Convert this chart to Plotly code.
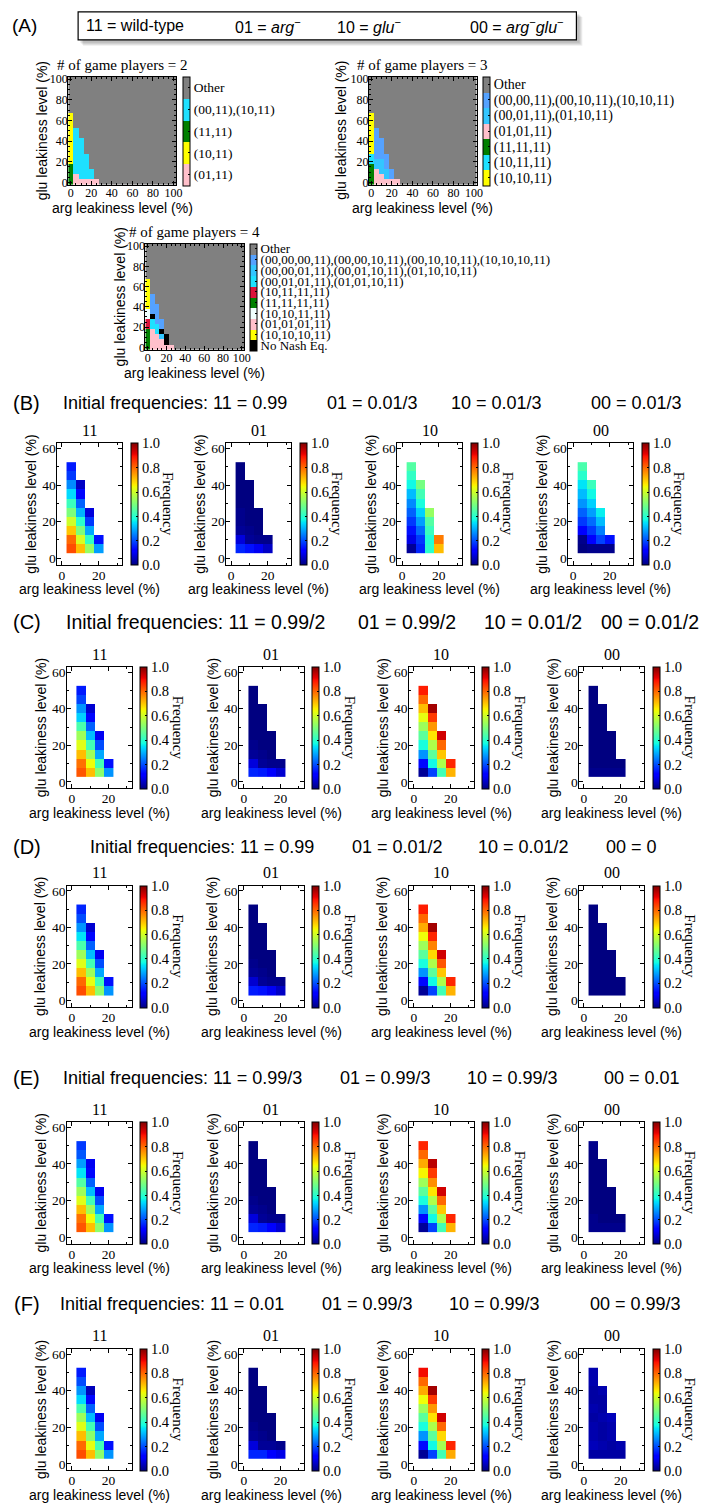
import numpy as np
import plotly.graph_objects as go

W, H = 706, 1505
SERIF = "Liberation Serif"
SANS = "Liberation Sans"

# ---------------- Panel (A): Nash equilibria maps ----------------
A_X = list(range(0, 101, 5))          # arg leakiness (%)
A_Y = list(range(0, 101, 5))          # glu leakiness (%)
A_TICKS = [0, 20, 40, 60, 80, 100]

P2_LABELS = ["(01,11)", "(10,11)", "(11,11)", "(00,11),(10,11)", "Other"]
P2_COLORS = ["#FFC0CB", "#FFFF00", "#007F00", "#1EE0FF", "#808080"]
# runs per arg column, from glu=0 upward: (category, number of 5% cells); remainder = Other
P2_RUNS = {0: [(2, 4), (1, 10)], 5: [(0, 2), (3, 9)], 10: [(0, 1), (3, 8)],
           15: [(0, 1), (3, 5)], 20: [(0, 1), (3, 2)], 25: [(0, 1)]}

P3_LABELS = ["(10,10,11)", "(10,11,11)", "(11,11,11)", "(01,01,11)",
             "(00,01,11),(01,10,11)", "(00,00,11),(00,10,11),(10,10,11)", "Other"]
P3_COLORS = ["#FFFF00", "#1EE0FF", "#007F00", "#FFC0CB", "#33C6FF", "#55A2FF", "#808080"]
P3_RUNS = {0: [(2, 4), (1, 2), (0, 8)], 5: [(3, 3), (4, 2), (5, 6)], 10: [(3, 2), (4, 3), (5, 4)],
           15: [(3, 1), (4, 2), (5, 3)], 20: [(3, 1), (5, 2)], 25: [(3, 1)]}

P4_LABELS = ["No Nash Eq.", "(10,10,10,11)", "(01,01,01,11)", "(10,10,11,11)", "(11,11,11,11)",
             "(10,11,11,11)", "(00,01,01,11),(01,01,10,11)",
             "(00,00,01,11),(00,01,10,11),(01,10,10,11)",
             "(00,00,00,11),(00,00,10,11),(00,10,10,11),(10,10,10,11)", "Other"]
P4_COLORS = ["#000000", "#FFFF00", "#FFC0CB", "#F0FFFF", "#007F00", "#DC143C",
             "#1EE0FF", "#33C6FF", "#55A2FF", "#808080"]
P4_RUNS = {0: [(4, 4), (5, 2), (3, 2), (1, 6)], 5: [(2, 4), (6, 2), (0, 1), (8, 4)],
           10: [(2, 3), (6, 2), (8, 4)], 15: [(2, 2), (7, 1), (0, 1), (8, 2)],
           20: [(2, 1), (0, 2)], 25: [(2, 1)]}

# ---------------- Panels (B)-(F): frequency heatmaps ----------------
HM_X = [5, 10, 15, 20]                              # arg leakiness (%)
HM_Y = [5, 10, 15, 20, 25, 30, 35, 40, 45, 50]      # glu leakiness (%)
GENOTYPES = ["11", "01", "10", "00"]
# each panel: one list per arg column, values from glu=5 upward

B_11 = [[0.83, 0.80, 0.70, 0.60, 0.50, 0.42, 0.34, 0.26, 0.18, 0.15],
        [0.71, 0.61, 0.50, 0.40, 0.30, 0.22, 0.13, 0.06],
        [0.53, 0.41, 0.29, 0.18, 0.08],
        [0.28, 0.14]]
B_01 = [[0.16, 0.08, 0.02, 0.01, 0.01, 0.00, 0.00, 0.00, 0.00, 0.00],
        [0.14, 0.02, 0.01, 0.00, 0.00, 0.00, 0.00, 0.00],
        [0.10, 0.01, 0.00, 0.00, 0.00],
        [0.06, 0.01]]
B_10 = [[0.02, 0.09, 0.14, 0.18, 0.22, 0.26, 0.31, 0.37, 0.41, 0.45],
        [0.16, 0.18, 0.23, 0.28, 0.33, 0.38, 0.43, 0.49],
        [0.40, 0.39, 0.42, 0.45, 0.53],
        [0.71, 0.78]]
B_00 = [[0.00, 0.01, 0.12, 0.18, 0.22, 0.27, 0.31, 0.35, 0.40, 0.44],
        [0.01, 0.12, 0.18, 0.23, 0.28, 0.33, 0.37, 0.42],
        [0.01, 0.19, 0.25, 0.31, 0.36],
        [0.01, 0.14]]

C_11 = [[0.82, 0.79, 0.71, 0.62, 0.54, 0.44, 0.33, 0.27, 0.19, 0.15],
        [0.71, 0.64, 0.54, 0.43, 0.31, 0.22, 0.13, 0.07],
        [0.52, 0.43, 0.29, 0.20, 0.10],
        [0.27, 0.14]]
C_01 = [[0.16, 0.08, 0.02, 0.01, 0.00, 0.00, 0.00, 0.00, 0.00, 0.00],
        [0.15, 0.02, 0.01, 0.00, 0.00, 0.00, 0.00, 0.00],
        [0.11, 0.01, 0.00, 0.00, 0.00],
        [0.07, 0.01]]
C_10 = [[0.02, 0.13, 0.27, 0.38, 0.46, 0.54, 0.63, 0.71, 0.80, 0.88],
        [0.19, 0.37, 0.46, 0.56, 0.67, 0.75, 0.85, 0.97],
        [0.43, 0.56, 0.70, 0.80, 0.93],
        [0.72, 0.87]]
C_00 = [[0.01, 0.00, 0.00, 0.00, 0.00, 0.00, 0.00, 0.00, 0.00, 0.00],
        [0.01, 0.00, 0.00, 0.00, 0.00, 0.00, 0.00, 0.00],
        [0.01, 0.00, 0.00, 0.00, 0.00],
        [0.01, 0.00]]

D_11 = [[0.83, 0.80, 0.71, 0.62, 0.54, 0.44, 0.35, 0.27, 0.20, 0.16],
        [0.71, 0.63, 0.54, 0.43, 0.31, 0.22, 0.13, 0.07],
        [0.52, 0.43, 0.29, 0.20, 0.10],
        [0.27, 0.14]]
D_01 = [[0.15, 0.07, 0.02, 0.01, 0.00, 0.00, 0.00, 0.00, 0.00, 0.00],
        [0.14, 0.02, 0.01, 0.00, 0.00, 0.00, 0.00, 0.00],
        [0.10, 0.01, 0.00, 0.00, 0.00],
        [0.06, 0.01]]
D_10 = [[0.02, 0.13, 0.27, 0.38, 0.46, 0.54, 0.64, 0.73, 0.80, 0.88],
        [0.19, 0.37, 0.46, 0.56, 0.68, 0.77, 0.87, 0.97],
        [0.43, 0.56, 0.70, 0.82, 0.93],
        [0.72, 0.87]]
D_00 = [[0.00, 0.00, 0.00, 0.00, 0.00, 0.00, 0.00, 0.00, 0.00, 0.00],
        [0.00, 0.00, 0.00, 0.00, 0.00, 0.00, 0.00, 0.00],
        [0.00, 0.00, 0.00, 0.00, 0.00],
        [0.00, 0.00]]

E_11 = [[0.82, 0.79, 0.71, 0.62, 0.54, 0.45, 0.35, 0.28, 0.21, 0.18],
        [0.71, 0.64, 0.54, 0.43, 0.31, 0.22, 0.13, 0.10],
        [0.52, 0.43, 0.29, 0.20, 0.10],
        [0.27, 0.14]]
E_01 = [[0.16, 0.08, 0.02, 0.01, 0.00, 0.00, 0.00, 0.00, 0.00, 0.00],
        [0.15, 0.02, 0.01, 0.00, 0.00, 0.00, 0.00, 0.00],
        [0.11, 0.01, 0.00, 0.00, 0.00],
        [0.07, 0.01]]
E_10 = [[0.02, 0.13, 0.27, 0.38, 0.46, 0.54, 0.65, 0.73, 0.80, 0.87],
        [0.19, 0.37, 0.46, 0.56, 0.67, 0.76, 0.85, 0.95],
        [0.43, 0.56, 0.70, 0.80, 0.93],
        [0.72, 0.87]]
E_00 = [[0.01, 0.01, 0.00, 0.00, 0.00, 0.00, 0.00, 0.00, 0.00, 0.01],
        [0.01, 0.00, 0.00, 0.00, 0.00, 0.00, 0.00, 0.00],
        [0.01, 0.00, 0.00, 0.00, 0.00],
        [0.01, 0.00]]

F_11 = [[0.83, 0.80, 0.71, 0.62, 0.54, 0.44, 0.34, 0.27, 0.20, 0.15],
        [0.71, 0.63, 0.52, 0.43, 0.31, 0.22, 0.13, 0.05],
        [0.52, 0.43, 0.29, 0.20, 0.10],
        [0.27, 0.14]]
F_01 = [[0.16, 0.08, 0.02, 0.01, 0.00, 0.00, 0.00, 0.00, 0.00, 0.00],
        [0.16, 0.02, 0.01, 0.00, 0.00, 0.00, 0.00, 0.00],
        [0.12, 0.02, 0.00, 0.00, 0.00],
        [0.09, 0.01]]
F_10 = [[0.02, 0.13, 0.27, 0.38, 0.46, 0.54, 0.64, 0.73, 0.80, 0.90],
        [0.19, 0.37, 0.46, 0.56, 0.67, 0.75, 0.85, 0.97],
        [0.43, 0.55, 0.68, 0.80, 0.93],
        [0.73, 0.87]]
F_00 = [[0.03, 0.05, 0.04, 0.04, 0.03, 0.04, 0.03, 0.03, 0.04, 0.04],
        [0.03, 0.04, 0.03, 0.03, 0.04, 0.03, 0.03, 0.04],
        [0.03, 0.03, 0.04, 0.04, 0.05],
        [0.03, 0.04]]

ROWS = ["B", "C", "D", "E", "F"]
ROW_DATA = {"B": [B_11, B_01, B_10, B_00], "C": [C_11, C_01, C_10, C_00],
            "D": [D_11, D_01, D_10, D_00], "E": [E_11, E_01, E_10, E_00],
            "F": [F_11, F_01, F_10, F_00]}
ROW_HEAD = {
    "B": ["Initial frequencies: 11 = 0.99", "01 = 0.01/3", "10 = 0.01/3", "00 = 0.01/3"],
    "C": ["Initial frequencies: 11 = 0.99/2", "01 = 0.99/2", "10 = 0.01/2", "00 = 0.01/2"],
    "D": ["Initial frequencies: 11 = 0.99", "01 = 0.01/2", "10 = 0.01/2", "00 = 0"],
    "E": ["Initial frequencies: 11 = 0.99/3", "01 = 0.99/3", "10 = 0.99/3", "00 = 0.01"],
    "F": ["Initial frequencies: 11 = 0.01", "01 = 0.99/3", "10 = 0.99/3", "00 = 0.99/3"],
}
FREQ_TICKS = [0.0, 0.2, 0.4, 0.6, 0.8, 1.0]

# ---------------- layout (pixels) ----------------
ROW_TOP = {"B": 442, "C": 667, "D": 887, "E": 1125, "F": 1353}
ROW_HEAD_Y = {"B": 401, "C": 622, "D": 848, "E": 1080, "F": 1308}
ROW_HEAD_SIZE = {"B": 18, "C": 19.5, "D": 18, "E": 18, "F": 18}
ROW_HEAD_CX = {"B": [176, 376, 501, 643], "C": [197, 411, 538, 656],
               "D": [203, 401, 528, 638], "E": [184, 389, 517, 648],
               "F": [173, 371, 499, 642]}
ROW_LEFTS = {"B": [57, 228, 401, 574], "C": [67, 241, 413, 585], "D": [67, 241, 413, 585],
             "E": [67, 241, 413, 585], "F": [67, 241, 413, 585]}
PW, PH = 65, 122


def px(x):
    return x / W


def py(y):
    return 1 - y / H


def mpl_jet():
    R = ([0, 0.35, 0.66, 0.89, 1], [0, 0, 1, 1, 0.5])
    G = ([0, 0.125, 0.375, 0.64, 0.91, 1], [0, 0, 1, 1, 0, 0])
    B = ([0, 0.11, 0.34, 0.65, 1], [0.5, 1, 1, 0, 0])
    stops = sorted(set(R[0] + G[0] + B[0]))
    out = []
    for s in stops:
        r = round(255 * float(np.interp(s, *R)))
        g = round(255 * float(np.interp(s, *G)))
        b = round(255 * float(np.interp(s, *B)))
        out.append([s, f"rgb({r},{g},{b})"])
    return out


JET = mpl_jet()

fig = go.Figure()
layout = {}
annotations = []
shapes = []


def text(t, x, y, size, family, angle=0, xanchor="center", yanchor="middle"):
    annotations.append(dict(text=t, x=px(x), y=py(y), xref="paper", yref="paper",
                            showarrow=False, textangle=angle, xanchor=xanchor, yanchor=yanchor,
                            font=dict(size=size, family=family, color="black")))


counter = [0]


def make_axes(l, t, w, h, xr, yr, xticks, yticks, minor_dt, tick_size, standoff=0):
    counter[0] += 1
    n = counter[0]
    xa = "xaxis" if n == 1 else f"xaxis{n}"
    ya = "yaxis" if n == 1 else f"yaxis{n}"
    xr_id = "x" if n == 1 else f"x{n}"
    yr_id = "y" if n == 1 else f"y{n}"
    common = dict(showline=True, mirror="allticks", linecolor="black", linewidth=1,
                  ticks="inside", ticklen=4, tickcolor="black", showgrid=False, zeroline=False,
                  tickfont=dict(family=SERIF, size=tick_size, color="black"),
                  ticklabelstandoff=standoff,
                  minor=dict(ticks="inside", ticklen=2, dtick=minor_dt, tick0=0,
                             tickcolor="black", showgrid=False),
                  fixedrange=True)
    layout[xa] = dict(domain=[px(l), px(l + w)], range=xr, anchor=yr_id,
                      tickvals=xticks, **common)
    layout[ya] = dict(domain=[py(t + h), py(t)], range=yr, anchor=xr_id,
                      tickvals=yticks, **common)
    return xr_id, yr_id


# ---------- (A) header ----------
text("(A)", 24, 22, 19, SANS)
for k in range(4):
    shapes.append(dict(type="rect", xref="paper", yref="paper",
                       x0=px(80 + k), x1=px(585 + k), y0=py(39 + k), y1=py(10 + k),
                       line=dict(width=0), fillcolor="rgba(0,0,0,0.07)", layer="below"))
shapes.append(dict(type="rect", xref="paper", yref="paper", x0=px(78), x1=px(582),
                   y0=py(36), y1=py(8), line=dict(color="black", width=1.2),
                   fillcolor="white", layer="below"))
text("11 = wild-type", 136, 22, 16, SANS)
text("01 = <i>arg</i><sup>−</sup>", 270, 22, 16, SANS)
text("10 = <i>glu</i><sup>−</sup>", 372, 22, 16, SANS)
text("00 = <i>arg</i><sup>−</sup><i>glu</i><sup>−</sup>", 522, 22, 16, SANS)


def nash_grid(runs, other):
    z = np.full((len(A_Y), len(A_X)), other, dtype=int)
    for xv, rr in runs.items():
        j = A_X.index(xv)
        i = 0
        for code, cnt in rr:
            z[i:i + cnt, j] = code
            i += cnt
    return z


def discrete_scale(colors):
    n = len(colors)
    cs = []
    for k, c in enumerate(colors):
        cs.append([k / n, c])
        cs.append([(k + 1) / n, c])
    return cs


A_PANELS = [
    ("# of game players = 2", P2_LABELS, P2_COLORS, P2_RUNS, (68, 73, 109, 109), 184, 41, 13.5),
    ("# of game players = 3", P3_LABELS, P3_COLORS, P3_RUNS, (372, 73, 109, 109), 488, 344, 14),
    ("# of game players = 4", P4_LABELS, P4_COLORS, P4_RUNS, (146, 241, 100, 107), 252, 120, 13),
]
for title, labels, colors, runs, (l, t, w, h), cbx, ylab_x, lab_size in A_PANELS:
    xid, yid = make_axes(l, t, w, h, [-2.5, 102.5], [-2.5, 102.5], A_TICKS, A_TICKS, 5, 12,
                         standoff=-3)
    n = len(labels)
    fig.add_trace(go.Heatmap(
        z=nash_grid(runs, n - 1), x=A_X, y=A_Y, xaxis=xid, yaxis=yid,
        colorscale=discrete_scale(colors), zmin=-0.5, zmax=n - 0.5, hoverinfo="skip",
        colorbar=dict(x=px(cbx), xanchor="left", y=py(t), yanchor="top",
                      lenmode="pixels", len=h, thicknessmode="pixels", thickness=7,
                      xpad=0, ypad=0, outlinewidth=1, outlinecolor="black",
                      tickvals=list(range(n)), ticktext=labels, ticks="inside", ticklen=2,
                      tickcolor="black",
                      tickfont=dict(family=SERIF, size=lab_size, color="black"))))
    text(title, l + w / 2, t - 12, 15, SERIF)
    text("arg leakiness level (%)", l + w / 2, t + h + 23, 14, SANS)
    text("glu leakiness level (%)", ylab_x, t + h / 2, 14, SANS, angle=-90)

# ---------- (B)-(F) ----------
for r in ROWS:
    top = ROW_TOP[r]
    text(f"({r})", 26, ROW_HEAD_Y[r], 20, SANS)
    for seg, cx in zip(ROW_HEAD[r], ROW_HEAD_CX[r]):
        text(seg, cx, ROW_HEAD_Y[r], ROW_HEAD_SIZE[r], SANS)
    for gi, (geno, cols, l) in enumerate(zip(GENOTYPES, ROW_DATA[r], ROW_LEFTS[r])):
        z = [[(cols[j][i] if i < len(cols[j]) else None) for j in range(len(HM_X))]
             for i in range(len(HM_Y))]
        xid, yid = make_axes(l, top, PW, PH, [-2.5, 32.5], [-3.5, 62.8],
                             [0, 20], [0, 20, 40, 60], 10, 13.5, standoff=-2)
        cbx = l + 74
        fig.add_trace(go.Heatmap(
            z=z, x=HM_X, y=HM_Y, xaxis=xid, yaxis=yid, colorscale=JET, zmin=0, zmax=1,
            hoverongaps=False, xgap=0, ygap=0,
            colorbar=dict(x=px(cbx), xanchor="left", y=py(top), yanchor="top",
                          lenmode="pixels", len=PH, thicknessmode="pixels", thickness=7,
                          xpad=0, ypad=0, outlinewidth=1, outlinecolor="black",
                          tickvals=FREQ_TICKS, ticktext=[f"{v:.1f}" for v in FREQ_TICKS],
                          ticks="inside", ticklen=2, tickcolor="black",
                          tickfont=dict(family=SERIF, size=14.5, color="black"))))
        text(geno, l + PW / 2, top - 13, 16, SERIF)
        text("arg leakiness level (%)", l + PW / 2, top + PH + 25, 14, SANS)
        text("glu leakiness level (%)", l - 27, top + PH / 2, 14, SANS, angle=-90)
        text("Frequency", cbx + 38, top + PH / 2, 15, SERIF, angle=90)

fig.update_layout(width=W, height=H, autosize=False,
                  margin=dict(l=0, r=0, t=0, b=0, pad=0),
                  paper_bgcolor="white", plot_bgcolor="white",
                  showlegend=False, annotations=annotations, shapes=shapes, **layout)
fig.write_html("out.html")
